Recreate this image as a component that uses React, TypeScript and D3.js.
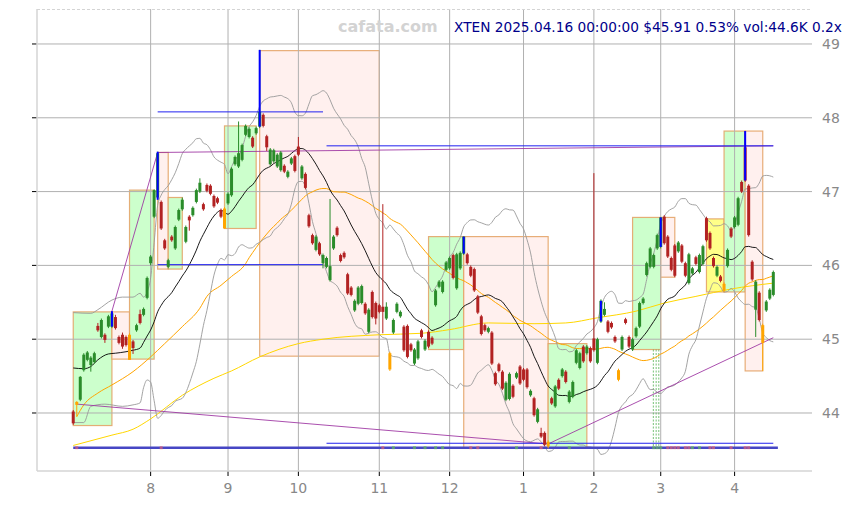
import React from 'react';
import * as d3 from 'd3';

const opens = [
44.02,44.15,44.18,44.58,44.72,44.65,44.69,45.18,45.03,45.06,
45.17,45.17,45.30,45.03,45.06,45.03,45.06,44.97,45.12,45.34,
45.33,45.56,46.03,46.66,46.92,46.86,46.34,45.98,46.39,46.23,
46.62,46.76,46.32,46.66,46.68,46.86,47.00,46.83,47.09,47.08,
46.94,46.91,46.75,46.77,46.84,46.95,47.37,47.34,47.43,47.77,
47.74,47.73,47.79,47.88,48.04,47.75,47.37,47.41,47.34,47.29,
47.35,47.20,47.38,47.48,47.61,47.18,47.24,46.68,46.41,46.21,
46.30,46.03,45.98,45.80,46.23,46.51,46.14,46.17,45.88,45.70,
45.39,45.48,45.49,45.48,45.10,45.64,45.49,45.46,45.44,45.28,
44.81,45.09,45.37,45.31,45.17,45.18,44.93,44.67,44.74,45.12,
44.86,45.10,45.02,45.46,45.71,45.64,45.94,45.96,46.14,45.69,
45.96,46.16,46.15,45.98,45.95,45.58,45.31,45.19,45.10,45.09,
44.54,44.66,44.56,44.18,44.19,44.37,44.48,44.63,44.59,44.59,
44.24,44.20,43.88,43.73,43.73,43.61,44.20,44.09,44.45,44.50,
44.56,44.15,44.22,44.68,44.61,44.90,44.81,44.88,45.01,44.68,
45.24,45.33,45.24,45.22,45.03,44.58,44.86,45.27,45.03,44.86,
45.04,45.17,45.49,45.87,45.98,45.98,46.23,46.25,46.66,46.39,
46.10,46.27,46.19,46.27,46.03,45.76,45.89,46.11,45.91,46.02,
46.64,46.44,46.10,45.86,45.85,45.75,45.99,46.50,46.52,46.55,
47.13,47.60,47.08,46.05,45.40,45.63,45.19,45.39,45.55,45.60];

const closes = [
43.86,44.11,44.49,44.79,44.82,44.75,44.81,45.12,45.26,44.99,
45.31,45.35,45.15,44.95,44.90,44.92,44.72,44.88,45.19,45.22,
45.41,45.83,46.12,47.02,47.52,46.50,46.23,46.07,46.34,46.52,
46.75,46.89,46.52,46.61,46.78,47.02,47.12,46.76,47.01,46.97,
46.80,46.85,46.66,46.50,46.97,47.31,47.47,47.52,47.63,47.89,
47.85,47.61,47.86,48.08,47.89,47.60,47.57,47.56,47.50,47.53,
47.27,47.27,47.45,47.28,47.50,47.34,47.05,46.53,46.30,46.39,
46.15,46.14,46.10,45.99,46.39,46.41,46.06,46.11,45.62,45.60,
45.52,45.70,45.72,45.35,45.40,45.30,45.28,45.37,45.37,45.44,
44.59,45.26,45.48,45.37,44.85,44.76,44.85,44.86,44.97,45.03,
44.98,44.90,44.94,45.66,45.78,45.78,46.04,46.10,45.83,46.15,
46.17,46.39,46.03,45.86,45.66,45.36,45.07,45.12,45.15,44.67,
44.39,44.57,44.33,44.41,44.53,44.22,44.54,44.40,44.45,44.35,
44.30,43.97,44.05,43.68,43.57,43.55,44.13,44.36,44.33,44.59,
44.42,44.29,44.42,44.85,44.81,44.70,44.90,44.70,44.85,45.00,
45.52,45.41,45.10,45.16,44.97,44.45,45.03,45.22,44.90,45.00,
45.15,45.49,45.55,46.03,46.23,46.14,46.41,46.65,46.30,46.12,
45.94,45.86,46.31,46.05,45.86,46.15,45.96,46.02,46.14,46.26,
46.34,46.23,45.99,45.98,45.79,45.66,46.21,46.39,46.65,46.91,
47.00,47.15,46.41,45.81,45.78,45.26,44.95,45.51,45.67,45.91];

const highs = [
44.04,44.16,44.50,44.81,44.84,44.77,44.83,45.22,45.28,45.08,
45.33,45.37,45.33,45.05,45.09,45.05,45.08,44.99,45.21,45.40,
45.43,45.85,46.14,47.03,47.54,46.88,46.36,46.09,46.41,46.54,
46.77,46.92,46.54,46.68,46.80,47.04,47.18,46.85,47.11,47.10,
46.96,46.93,46.77,46.79,46.99,47.33,47.49,47.95,47.65,47.91,
47.87,47.75,47.88,48.92,48.06,47.77,47.59,47.58,47.52,47.55,
47.37,47.29,47.47,47.50,47.74,47.36,47.26,46.70,46.43,46.41,
46.32,46.16,46.12,46.90,46.41,46.53,46.16,46.19,45.90,45.72,
45.54,45.72,45.74,45.50,45.42,45.66,45.51,45.48,46.83,45.50,
44.83,45.28,45.50,45.39,45.19,45.20,44.95,44.88,44.99,45.14,
45.00,45.12,45.04,45.68,45.80,45.80,46.06,46.12,46.16,46.17,
46.19,46.39,46.17,46.00,45.97,45.60,45.33,45.21,45.17,45.11,
44.56,44.68,44.58,44.43,44.55,44.39,44.56,44.65,44.61,44.61,
44.32,44.22,44.07,43.80,43.75,43.63,44.22,44.38,44.47,44.61,
44.58,44.31,44.44,44.87,44.83,44.92,44.92,44.90,47.25,45.02,
45.54,45.50,45.26,45.24,45.05,44.60,45.05,45.29,45.05,45.02,
45.17,45.51,45.57,46.05,46.25,46.16,46.43,46.65,46.68,46.41,
46.12,46.29,46.33,46.29,46.05,46.17,45.98,46.13,46.16,46.28,
46.66,46.46,46.12,46.00,45.87,45.77,46.23,46.52,46.67,46.93,
47.15,47.82,47.10,46.07,45.80,45.65,45.21,45.53,45.69,45.93];

const lows = [
43.84,43.95,44.16,44.56,44.70,44.56,44.67,45.10,45.01,44.95,
45.15,45.15,45.13,44.93,44.87,44.90,44.72,44.80,45.10,45.20,
45.31,45.54,46.00,46.64,46.89,46.48,46.21,45.96,46.32,46.21,
46.60,46.74,46.30,46.47,46.66,46.84,46.98,46.74,46.99,46.95,
46.78,46.83,46.64,46.50,46.82,46.93,47.35,47.32,47.41,47.75,
47.72,47.59,47.77,47.86,47.87,47.55,47.35,47.39,47.32,47.27,
47.25,47.18,47.36,47.26,47.48,47.16,47.03,46.51,46.28,46.19,
46.13,45.96,45.96,45.78,46.21,46.39,46.04,46.09,45.60,45.58,
45.37,45.46,45.47,45.33,45.08,45.28,45.20,45.35,45.08,45.26,
44.57,45.07,45.35,45.29,44.83,44.74,44.83,44.65,44.72,45.01,
44.84,44.88,44.92,45.44,45.69,45.62,45.92,45.94,45.81,45.67,
45.94,46.14,46.01,45.84,45.64,45.34,45.05,45.10,45.08,44.65,
44.37,44.55,44.31,44.16,44.17,44.20,44.46,44.38,44.43,44.33,
44.22,43.95,43.86,43.66,43.55,43.52,44.11,44.07,44.31,44.48,
44.40,44.13,44.20,44.66,44.59,44.68,44.79,44.68,44.83,44.66,
45.22,45.31,45.08,45.14,44.95,44.43,44.84,45.20,44.88,44.84,
45.02,45.15,45.47,45.85,45.96,45.96,46.21,46.23,46.28,46.10,
45.92,45.84,46.17,46.03,45.84,45.74,45.87,46.00,45.89,46.00,
46.32,46.21,45.97,45.84,45.77,45.64,45.97,46.37,46.50,46.53,
46.98,47.13,46.39,45.79,45.03,45.24,44.57,45.37,45.53,45.58];

const orangeDays = [1, 16, 43, 90, 135, 155, 185, 196];

const monthTicks = [22, 44, 64, 87, 107, 128, 148, 167, 188];
const monthLabels = ['8', '9', '10', '11', '12', '1', '2', '3', '4'];
const priceTicks = [44, 45, 46, 47, 48, 49];

// indicator values before enough history exists
const ma20Head = [[0, 44.61], [3, 44.60], [5, 44.63], [7, 44.72], [10, 44.80], [12, 44.81], [15, 44.83], [17, 44.85]];
const bbUpperHead = [[0, 45.36], [5, 45.35], [7, 45.40], [11, 45.53], [14, 45.57], [17, 45.57]];
const bbLowerHead = [[0, 43.87], [3, 43.87], [5, 44.09], [9, 44.12], [14, 44.09], [17, 44.11]];
const ma50Head = [[1, 43.95], [3, 44.11], [7, 44.27], [11, 44.38], [17, 44.56], [22, 44.76], [26, 44.94], [31, 45.17], [36, 45.42], [38, 45.58], [42, 45.73], [45, 45.85]];
const ma200Pts = [[0, 43.56], [11, 43.70], [17, 43.78], [22, 43.92], [31, 44.24], [40, 44.47], [45, 44.57], [53, 44.76], [64, 44.94], [71, 45.0], [87, 45.06], [99, 45.08], [107, 45.13], [118, 45.22], [131, 45.21], [140, 45.22], [149, 45.29], [160, 45.38], [168, 45.49], [177, 45.58], [187, 45.68], [199, 45.76]];

const boxStart = [0, 11, 16, 24, 27, 43, 53, 101, 111, 135, 159, 167, 180, 185, 191];
const boxEnd = [11, 16, 23, 27, 31, 52, 87, 111, 135, 146, 167, 171, 185, 191, 196];
const boxTop = [45.37, 45.37, 47.02, 47.53, 46.92, 47.89, 48.91, 46.39, 46.39, 44.94, 46.65, 46.65, 46.63, 47.82, 47.82];
const boxBottom = [43.83, 44.73, 44.73, 45.95, 45.95, 46.50, 44.77, 44.86, 43.52, 43.52, 44.86, 45.84, 45.64, 45.64, 44.57];
const boxKind = ['g', 'p', 'g', 'p', 'g', 'g', 'p', 'g', 'p', 'g', 'g', 'p', 'y', 'g', 'p'];

const markIdx = [11, 24, 53, 111, 150, 167, 191];
const markTop = [45.38, 47.54, 48.92, 46.39, 45.52, 46.65, 47.82];
const markBottom = [45.17, 46.89, 47.88, 46.16, 45.24, 46.25, 47.15];

const levelStart = [24, 24, 72, 72];
const levelEnd = [71, 71, 199, 199];
const levelValue = [48.08, 46.01, 47.62, 43.59];

const trendFrom = [[1, 44.12], [135, 43.58], [11, 45.38], [24, 47.53]];
const trendTo = [[135, 43.58], [199, 45.02], [24, 47.53], [199, 47.62]];

const volIdx = [1, 25, 88, 91, 97, 100, 103, 105, 113, 115, 126, 133, 141, 165, 166, 167, 169, 170, 171, 172, 174, 175, 176, 178, 181, 182, 187, 191, 192];
const volUp = [0, 0, 0, 1, 1, 1, 1, 1, 0, 0, 1, 0, 1, 1, 1, 1, 0, 0, 0, 0, 0, 0, 1, 1, 0, 0, 0, 0, 0];

const signalIdx = [164.9, 165.7, 166.45];

const W = 855, H = 505;
const L = 37, R = 812, T = 9, B = 471;

export default function App() {
  const x = d3.scaleLinear().domain([-10.3, 210]).range([L, R]);
  const y = d3.scaleLinear().domain([43.214, 49.474]).range([B, T]);

  const n = closes.length;
  const ma = (len: number, i: number) => d3.mean(closes.slice(i - len + 1, i + 1)) as number;
  const sd = (len: number, i: number) => {
    const s = closes.slice(i - len + 1, i + 1);
    const m = d3.mean(s) as number;
    return Math.sqrt(d3.mean(s.map(v => (v - m) * (v - m))) as number);
  };
  const ma20: number[][] = [...ma20Head];
  const up: number[][] = [...bbUpperHead];
  const lo: number[][] = [...bbLowerHead];
  const ma50: number[][] = [...ma50Head];
  for (let i = 19; i < n; i++) {
    const m = ma(20, i), s = sd(20, i);
    ma20.push([i, m]); up.push([i, m + 2 * s]); lo.push([i, m - 2 * s]);
  }
  for (let i = 49; i < n; i++) ma50.push([i, ma(50, i)]);

  const line = d3.line<number[]>().x(d => x(d[0])).y(d => y(d[1])).curve(d3.curveMonotoneX);

  const boxFill: Record<string, string> = { g: '#ccffcc', p: '#fff0ee', y: '#ffff88' };
  const bw = 3;

  return (
    <svg width={W} height={H} style={{ position: 'absolute', left: 0, top: 0, background: '#fff' }} fontFamily="DejaVu Sans, sans-serif">
      <rect x={0} y={0} width={W} height={H} fill="#fff" />
      {/* boxes */}
      {boxStart.map((s, k) => (
        <rect key={'b' + k} x={x(s)} y={y(boxTop[k])} width={x(boxEnd[k]) - x(s)} height={y(boxBottom[k]) - y(boxTop[k])}
          fill={boxFill[boxKind[k]]} stroke="#e3a062" strokeOpacity={0.85} strokeWidth={1.2} />
      ))}
      {/* grid */}
      {priceTicks.map(p => (
        <g key={'p' + p}>
          <line x1={L} x2={R} y1={y(p)} y2={y(p)} stroke="#b0b0b0" strokeWidth={1} />
          <line x1={L - 5} x2={L} y1={y(p)} y2={y(p)} stroke="#000" strokeWidth={1} />
          <text x={822} y={y(p) + 5} fontSize={14} fill="#888">{p}</text>
        </g>
      ))}
      {monthTicks.map((m, k) => (
        <g key={'m' + k}>
          <line x1={x(m)} x2={x(m)} y1={T} y2={B} stroke="#b0b0b0" strokeWidth={1} />
          <line x1={x(m)} x2={x(m)} y1={B} y2={B + 5} stroke="#000" strokeWidth={1} />
          <text x={x(m)} y={492.5} fontSize={14} fill="#888" textAnchor="middle">{monthLabels[k]}</text>
        </g>
      ))}
      <line x1={L} x2={L} y1={T} y2={B} stroke="#d4d4d4" strokeWidth={1.5} />
      <line x1={L} x2={R} y1={B} y2={B} stroke="#d4d4d4" strokeWidth={1.5} />
      <line x1={L} x2={R} y1={T + 0.5} y2={T + 0.5} stroke="#d4d4d4" strokeWidth={1} strokeDasharray="3,2" />

      {/* signal dotted lines */}
      {signalIdx.map((s, k) => (
        <line key={'s' + k} x1={x(s)} x2={x(s)} y1={y(44.86)} y2={y(43.53)} stroke="#50b050" strokeWidth={0.8} strokeDasharray="2,1.5" />
      ))}

      {/* indicators */}
      <path d={line(ma200Pts) || ''} fill="none" stroke="#ffd700" strokeWidth={1} />
      <path d={line(ma50) || ''} fill="none" stroke="#ffa500" strokeWidth={1} />
      <path d={line(up) || ''} fill="none" stroke="#999" strokeWidth={0.9} />
      <path d={line(lo) || ''} fill="none" stroke="#999" strokeWidth={0.9} />
      <path d={line(ma20) || ''} fill="none" stroke="#000" strokeWidth={0.9} />

      {/* trend lines */}
      {trendFrom.map((f, k) => (
        <line key={'t' + k} x1={x(f[0])} y1={y(f[1])} x2={x(trendTo[k][0])} y2={y(trendTo[k][1])} stroke="#9b30a0" strokeOpacity={0.85} strokeWidth={1} />
      ))}
      {/* level lines */}
      {levelStart.map((s, k) => (
        <line key={'l' + k} x1={x(s)} x2={x(levelEnd[k])} y1={y(levelValue[k])} y2={y(levelValue[k])} stroke="#2020f0" strokeWidth={1} />
      ))}
      <line x1={x(0)} x2={x(200.3)} y1={y(43.53)} y2={y(43.53)} stroke="#4646c4" strokeWidth={2.5} />

      {/* volume marks */}
      {volIdx.map((v, k) => (
        <rect key={'v' + k} x={x(v) - 1.5} y={y(43.53) - 1.5} width={3} height={3}
          fill={volUp[k] ? '#5fb85f' : '#d9607a'} fillOpacity={0.7} />
      ))}

      {/* candles */}
      {closes.map((c, i) => {
        const o = opens[i];
        const col = orangeDays.includes(i) ? '#ffa500' : c >= o ? '#2a8c2a' : '#b22222';
        const top = y(Math.max(o, c)), bot = y(Math.min(o, c));
        return (
          <g key={'c' + i}>
            <line x1={x(i)} x2={x(i)} y1={y(highs[i])} y2={y(lows[i])} stroke={col} strokeWidth={1} />
            <rect x={x(i) - bw / 2} y={top} width={bw} height={Math.max(1, bot - top)} fill={col} />
          </g>
        );
      })}

      {/* breakout markers */}
      {markIdx.map((m, k) => (
        <line key={'k' + k} x1={x(m)} x2={x(m)} y1={y(markTop[k])} y2={y(markBottom[k])} stroke="#0000ff" strokeWidth={2} />
      ))}

      {/* titles */}
      <text x={338} y={32} fontSize={16} fontWeight="bold" fill="#d3d3d3">cafata.com</text>
      <text x={454} y={32} fontSize={13.7} fill="#00008b">XTEN 2025.04.16 00:00:00 $45.91 0.53% vol:44.6K 0.2x</text>
    </svg>
  );
}
